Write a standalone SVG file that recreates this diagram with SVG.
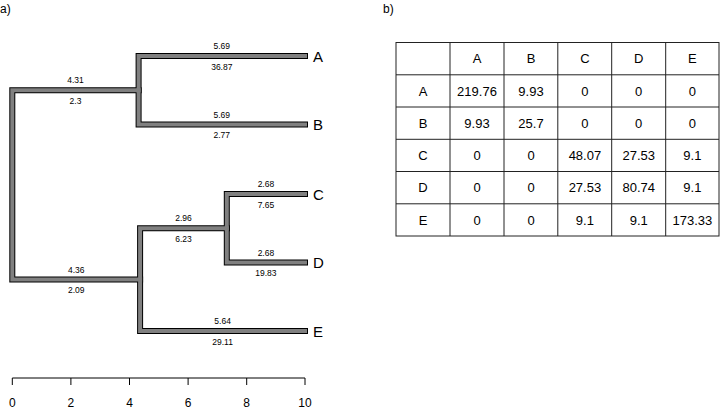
<svg xmlns="http://www.w3.org/2000/svg" width="720" height="409" viewBox="0 0 720 409">
<style>
text{font-family:"Liberation Sans",Arial,sans-serif;fill:#000}
.panel{font-size:12px}
.tip{font-size:15px}
.el{font-size:8.5px;text-anchor:middle}
.ax{font-size:12px;text-anchor:middle}
.tc{font-size:13px;text-anchor:middle}
.bo{fill:none;stroke:#000;stroke-width:6;stroke-linecap:square;stroke-linejoin:miter}
.bf{fill:none;stroke:#808080;stroke-width:4;stroke-linecap:square;stroke-linejoin:miter}
.grid{stroke:#222;stroke-width:1;fill:none}
</style>
<rect width="720" height="409" fill="#fff"/>
<text class="panel" x="0" y="13">a)</text>
<text class="panel" x="383" y="13">b)</text>

<g id="connectors">
  <g class="bo">
    <path d="M138.6,90.3 H12.3 V279.6 H140.1"/>
    <path d="M305,56 H138.6 V124.5 H305"/>
    <path d="M226.8,228.2 H140.1 V331 H305"/>
    <path d="M305,194 H226.8 V262.5 H305"/>
  </g>
  <g class="bf">
    <path d="M138.6,90.3 H12.3 V279.6 H140.1"/>
    <path d="M305,56 H138.6 V124.5 H305"/>
    <path d="M226.8,228.2 H140.1 V331 H305"/>
    <path d="M305,194 H226.8 V262.5 H305"/>
  </g>
  <g id="edge-labels">
    <text class="el" x="75.5" y="83.3">4.31</text>
    <text class="el" x="75.5" y="103.8">2.3</text>
    <text class="el" x="221.8" y="49">5.69</text>
    <text class="el" x="221.8" y="69.5">36.87</text>
    <text class="el" x="221.8" y="117.5">5.69</text>
    <text class="el" x="221.8" y="138">2.77</text>
    <text class="el" x="76.2" y="272.6">4.36</text>
    <text class="el" x="76.2" y="293.1">2.09</text>
    <text class="el" x="183.5" y="221.2">2.96</text>
    <text class="el" x="183.5" y="241.7">6.23</text>
    <text class="el" x="265.9" y="187">2.68</text>
    <text class="el" x="265.9" y="207.5">7.65</text>
    <text class="el" x="265.9" y="255.5">2.68</text>
    <text class="el" x="265.9" y="276">19.83</text>
    <text class="el" x="222.6" y="324">5.64</text>
    <text class="el" x="222.6" y="344.5">29.11</text>
  </g>
</g>

<g id="node-A"><text class="tip" x="313" y="61.5">A</text></g>
<g id="node-B"><text class="tip" x="313" y="130">B</text></g>
<g id="node-C"><text class="tip" x="313" y="199.5">C</text></g>
<g id="node-D"><text class="tip" x="313" y="268">D</text></g>
<g id="node-E"><text class="tip" x="313" y="336.5">E</text></g>

<g id="axis">
  <path d="M12.3,378 H305 M12.3,378 V385 M70.9,378 V385 M129.5,378 V385 M188.1,378 V385 M246.7,378 V385 M305,378 V385" stroke="#000" stroke-width="1" fill="none"/>
  <text class="ax" x="12.3" y="407">0</text>
  <text class="ax" x="70.9" y="407">2</text>
  <text class="ax" x="129.5" y="407">4</text>
  <text class="ax" x="188.1" y="407">6</text>
  <text class="ax" x="246.7" y="407">8</text>
  <text class="ax" x="305" y="407">10</text>
</g>

<g id="table">
  <rect class="grid" x="396" y="42.5" width="323" height="193.5"/>
  <path class="grid" d="M450,42.5 V236 M504,42.5 V236 M557.8,42.5 V236 M611.7,42.5 V236 M665.7,42.5 V236 M396,74.8 H719 M396,107 H719 M396,139.3 H719 M396,171.5 H719 M396,203.8 H719"/>
  <g>
    <text class="tc" x="477" y="63.3">A</text>
    <text class="tc" x="531" y="63.3">B</text>
    <text class="tc" x="584.9" y="63.3">C</text>
    <text class="tc" x="638.7" y="63.3">D</text>
    <text class="tc" x="692.4" y="63.3">E</text>

    <text class="tc" x="423" y="95.5">A</text>
    <text class="tc" x="477" y="95.5">219.76</text>
    <text class="tc" x="531" y="95.5">9.93</text>
    <text class="tc" x="584.9" y="95.5">0</text>
    <text class="tc" x="638.7" y="95.5">0</text>
    <text class="tc" x="692.4" y="95.5">0</text>

    <text class="tc" x="423" y="127.8">B</text>
    <text class="tc" x="477" y="127.8">9.93</text>
    <text class="tc" x="531" y="127.8">25.7</text>
    <text class="tc" x="584.9" y="127.8">0</text>
    <text class="tc" x="638.7" y="127.8">0</text>
    <text class="tc" x="692.4" y="127.8">0</text>

    <text class="tc" x="423" y="160">C</text>
    <text class="tc" x="477" y="160">0</text>
    <text class="tc" x="531" y="160">0</text>
    <text class="tc" x="584.9" y="160">48.07</text>
    <text class="tc" x="638.7" y="160">27.53</text>
    <text class="tc" x="692.4" y="160">9.1</text>

    <text class="tc" x="423" y="192.3">D</text>
    <text class="tc" x="477" y="192.3">0</text>
    <text class="tc" x="531" y="192.3">0</text>
    <text class="tc" x="584.9" y="192.3">27.53</text>
    <text class="tc" x="638.7" y="192.3">80.74</text>
    <text class="tc" x="692.4" y="192.3">9.1</text>

    <text class="tc" x="423" y="224.5">E</text>
    <text class="tc" x="477" y="224.5">0</text>
    <text class="tc" x="531" y="224.5">0</text>
    <text class="tc" x="584.9" y="224.5">9.1</text>
    <text class="tc" x="638.7" y="224.5">9.1</text>
    <text class="tc" x="692.4" y="224.5">173.33</text>
  </g>
</g>
</svg>
